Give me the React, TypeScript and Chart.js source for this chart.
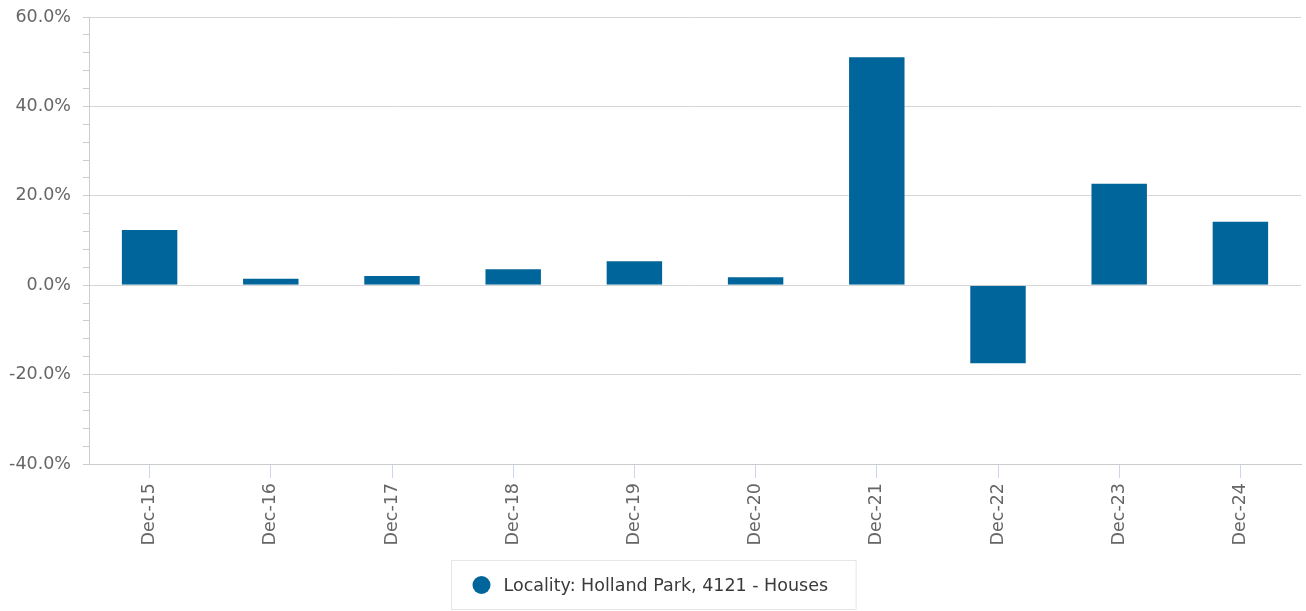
import React, { useEffect, useRef } from "react";
import { Chart, registerables } from "chart.js";

Chart.register(...registerables);

const categories = ["Dec-15", "Dec-16", "Dec-17", "Dec-18", "Dec-19", "Dec-20", "Dec-21", "Dec-22", "Dec-23", "Dec-24"];
const seriesLabel = "Locality: Holland Park, 4121 - Houses";
const seriesValues = [12.6, 1.65, 2.3, 3.8, 5.6, 2.0, 51.2, -17.7, 22.9, 14.4];
const yMin = -40;
const yMax = 60;
const yMajorStep = 20;
const yMinorStep = 4;

const BAR_COLOR = "#00659a";
const FONT = "'DejaVu Sans', Verdana, sans-serif";
const FONT_SIZE = 17.5;

const legendBoxPlugin = {
  id: "legendBox",
  afterDraw(chart: any) {
    const ctx = chart.ctx;
    const ds = chart.data.datasets[0];
    ctx.save();
    ctx.font = `${FONT_SIZE}px ${FONT}`;
    const text = ds.label as string;
    const tw = ctx.measureText(text).width;
    const boxW = tw + 80;
    const boxH = 49;
    const boxX = Math.round(chart.width / 2 - boxW / 2) + 0.5;
    const boxY = chart.height - boxH - 1.5;
    ctx.strokeStyle = "#e6e6e6";
    ctx.lineWidth = 1;
    ctx.strokeRect(boxX, boxY, boxW, boxH);
    const cy = boxY + boxH / 2;
    ctx.fillStyle = ds.backgroundColor;
    ctx.beginPath();
    ctx.arc(boxX + 30, cy, 9, 0, Math.PI * 2);
    ctx.fill();
    ctx.fillStyle = "#3a3a3a";
    ctx.textBaseline = "middle";
    ctx.textAlign = "left";
    ctx.fillText(text, boxX + 52, cy + 1);
    ctx.restore();
  },
};

export default function App() {
  const ref = useRef<HTMLCanvasElement | null>(null);

  useEffect(() => {
    document.body.style.margin = "0";
    const canvas = ref.current!;
    const chart = new Chart(canvas, {
      type: "bar",
      data: {
        labels: categories,
        datasets: [
          {
            label: seriesLabel,
            data: seriesValues,
            backgroundColor: BAR_COLOR,
            borderColor: "rgba(255,255,255,0.35)",
            borderWidth: 1,
            barPercentage: 0.474,
            categoryPercentage: 1,
          },
        ],
      },
      options: {
        animation: false,
        responsive: false,
        devicePixelRatio: 1,
        layout: { padding: { top: 17, right: 5, left: 0, bottom: 56 } },
        plugins: {
          legend: { display: false },
          tooltip: { enabled: false },
        },
        scales: {
          x: {
            offset: true,
            grid: {
              offset: false,
              drawOnChartArea: false,
              drawTicks: true,
              tickLength: 14,
              tickColor: "#ccd6eb",
            },
            border: { display: true, color: "#cccccc" },
            ticks: {
              color: "#666666",
              font: { family: FONT, size: FONT_SIZE },
              minRotation: 90,
              maxRotation: 90,
              padding: 5,
              autoSkip: false,
            },
            afterFit(scale: any) {
              scale.height = 91;
              scale.paddingLeft = 0;
              scale.paddingRight = 0;
            },
          },
          y: {
            min: yMin,
            max: yMax,
            grid: {
              color: (c: any) =>
                Math.round(c.tick.value) % yMajorStep === 0 ? "#d6d6d6" : "rgba(0,0,0,0)",
              tickColor: "#cccccc",
              tickLength: 6,
              drawTicks: true,
            },
            border: { display: true, color: "#cccccc" },
            ticks: {
              stepSize: yMinorStep,
              autoSkip: false,
              color: "#666666",
              font: { family: FONT, size: FONT_SIZE },
              padding: 12,
              callback: (v: any) =>
                Math.round(Number(v)) % yMajorStep === 0 ? Number(v).toFixed(1) + "%" : "",
            },
            afterFit(scale: any) {
              scale.width = 89;
              scale.paddingTop = 0;
              scale.paddingBottom = 0;
            },
          },
        },
      },
      plugins: [legendBoxPlugin],
    });
    return () => chart.destroy();
  }, []);

  return (
    <div style={{ width: 1306, height: 611 }}>
      <canvas ref={ref} width={1306} height={611} style={{ display: "block", width: 1306, height: 611 }} />
    </div>
  );
}
